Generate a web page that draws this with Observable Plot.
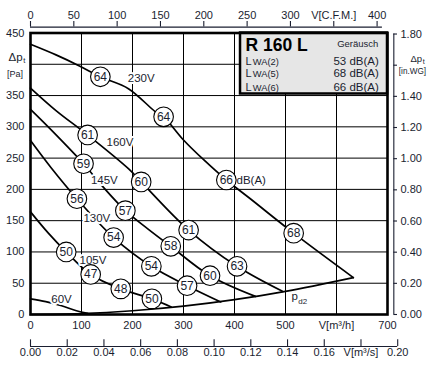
<!DOCTYPE html>
<html><head><meta charset="utf-8">
<script src="https://cdn.jsdelivr.net/npm/d3@7"></script>
<script src="https://cdn.jsdelivr.net/npm/@observablehq/plot@0.6"></script>
<style>body{margin:0;background:#fff}svg{display:block}</style>
</head><body><div id="chart"></div>
<script>
// ---------- data ----------
const voltages = ["230V", "160V", "145V", "130V", "105V", "60V"];
const curve230 = [[0,432],[50,415],[97,397],[137,380],[192,361],[245,324],[261,316],[300,279],[340,247],[384,215],[431,185],[516,130],[633,59]];
const curve160 = [[0,362],[50,326],[112,287],[192,233],[217,212],[310,135],[405,77],[494,37]];
const curve145 = [[0,328],[42,294],[104,241],[140,206],[186,166],[230,137],[275,109],[352,62],[441,29]];
const curve130 = [[0,278],[40,235],[91,185],[163,123],[237,77],[307,46],[373,20]];
const curve105 = [[0,164],[35,130],[70,100],[118,64],[177,41],[238,25],[276,12]];
const curve60  = [[0,25],[30,20.5],[61,14],[90,6],[112,2]];
const curvePd2 = [[0,0],[100,1.5],[200,6],[300,13.3],[400,23.7],[500,37],[633,59]];

// sound levels dB(A) on the curves: [V m3/h, dp Pa, level]
const db230 = [[137,380,"64"],[261,316,"64"],[384,215,"66"],[516,130,"68"]];
const db160 = [[112,287,"61"],[217,212,"60"],[310,135,"61"],[405,77,"63"]];
const db145 = [[104,241,"59"],[186,166,"57"],[275,109,"58"],[352,62,"60"]];
const db130 = [[91,185,"56"],[163,123,"54"],[237,77,"54"],[307,46,"57"]];
const db105 = [[70,100,"50"],[118,64,"47"],[177,41,"48"],[238,25,"50"]];

// axes
const m3hTicks = [0,100,200,300,400,500,600,700];
const m3hLabels = ["0","100","200","300","400","500","V[m³/h]","700"];
const paTicks = [0,50,100,150,200,250,300,350,450];
const cfmTicks = [0,50,100,150,200,250,300,350,400];
const cfmLabels = ["0","50","100","150","200","250","300","V[C.F.M.]","400"];
const m3sTicks = [0,0.02,0.04,0.06,0.08,0.10,0.12,0.14,0.16,0.18,0.20];
const m3sLabels = ["0.00","0.02","0.04","0.06","0.08","0.10","0.12","0.14","0.16","V[m³/s]","0.20"];
const inwgTicks = [0,0.2,0.4,0.6,0.8,1.0,1.2,1.4,1.6,1.8];
const inwgLabels = ["0.00","0.20","0.40","0.60","0.80","1.00","1.20","1.40","","1.80"];
const legendNames = ["2","5","6"];
const legendValues = ["53 dB(A)","68 dB(A)","66 dB(A)"];

// ---------- build ----------
const CFM = 1.699, M3S = 3600, INWG = 249.09;
const FONT = "Liberation Sans, Arial, sans-serif";
const INK = "#1a1e30";
const curveList = [curve230, curve160, curve145, curve130, curve105, curve60];
const dbList = [db230, db160, db145, db130, db105];
const lineRows = curveList.flatMap((c, k) => c.map(([v, p]) => ({v, p, s: voltages[k]})));
const pdRows = curvePd2.map(([v, p]) => ({v, p}));
const dotRows = dbList.flatMap(c => c.map(([v, p, t]) => ({v, p, t})));
const voltPos = [[217,378],[175.5,275.4],[144.7,214],[130,153],[122.5,87.4],[60.8,25]];
const voltRows = voltages.map((s, i) => ({v: voltPos[i][0], p: voltPos[i][1], t: s}));
const legendRowP = [399.6, 379, 358];

const T = (rows, o) => Plot.text(rows, {x: "v", y: "p", text: "t", fill: INK, fontFamily: FONT, ...o});

const plot = Plot.plot({
  width: 434, height: 366,
  marginLeft: 30, marginRight: 47, marginTop: 32.5, marginBottom: 52,
  x: {domain: [0, 700], axis: null},
  y: {domain: [0, 450], axis: null},
  style: {fontFamily: FONT, background: "#fff"},
  marks: [
    Plot.ruleX([100,200,300,400,500,600], {stroke: "#000", strokeWidth: 1}),
    Plot.ruleY([50,100,150,200,250,300,350,400], {stroke: "#000", strokeWidth: 1}),
    Plot.rect([{a: 411.8, b: 700, c: 352.5, d: 450}], {x1: "a", x2: "b", y1: "c", y2: "d", fill: "#e6e6e6", stroke: "#000", strokeWidth: 2.5}),
    Plot.line(lineRows, {x: "v", y: "p", z: "s", curve: "catmull-rom", stroke: "#000", strokeWidth: 1.7}),
    Plot.line(pdRows, {x: "v", y: "p", curve: "catmull-rom", stroke: "#000", strokeWidth: 1.7}),
    T(voltRows, {fontSize: 11.5, stroke: "white", strokeWidth: 4}),
    T([{v: 404, p: 215.3, t: "dB(A)"}], {fontSize: 11.5, textAnchor: "start"}),
    T([{v: 511.8, p: 22.4, t: "p"}], {fontSize: 11.5, textAnchor: "start", lineAnchor: "bottom"}),
    T([{v: 525, p: 17.4, t: "d2"}], {fontSize: 8, textAnchor: "start", lineAnchor: "bottom"}),
    Plot.dot(dotRows, {x: "v", y: "p", r: 9.8, fill: "white", stroke: "#000", strokeWidth: 1.1}),
    T(dotRows, {fontSize: 12}),
    Plot.frame({stroke: "#000", strokeWidth: 2.6}),
    // legend text
    T([{v: 421.6, p: 421, t: "R 160 L"}], {fontSize: 17.5, fontWeight: "bold", textAnchor: "start", lineAnchor: "bottom", fill: "#000"}),
    T([{v: 682, p: 427.3, t: "Geräusch"}], {fontSize: 9.5, textAnchor: "end", lineAnchor: "bottom"}),
    T(legendRowP.map(p => ({v: 421.6, p, t: "L"})), {fontSize: 11, textAnchor: "start", lineAnchor: "bottom"}),
    T(legendNames.map((n, i) => ({v: 436, p: legendRowP[i], t: "WA(" + n + ")"})), {fontSize: 9.3, textAnchor: "start", lineAnchor: "bottom"}),
    T(legendValues.map((n, i) => ({v: 683, p: legendRowP[i], t: n})), {fontSize: 11.5, textAnchor: "end", lineAnchor: "bottom"}),
    // bottom m3/h labels
    T(m3hTicks.map((d, i) => ({v: d, p: -16.8, t: m3hLabels[i]})), {fontSize: 11}),
    // left Pa labels
    T(paTicks.map(d => ({v: -11.8, p: d, t: String(d)})), {fontSize: 11, textAnchor: "end"}),
    T([{v: -43, p: 406, t: "Δp"}], {fontSize: 11.5, textAnchor: "start", lineAnchor: "bottom"}),
    T([{v: -14, p: 402, t: "t"}], {fontSize: 7.5, textAnchor: "start", lineAnchor: "bottom"}),
    T([{v: -30.4, p: 380.4, t: "[Pa]"}], {fontSize: 9, lineAnchor: "bottom"}),
    // top CFM axis
    Plot.ruleY([459.4], {x1: 0, x2: 690, stroke: INK, strokeWidth: 1.1}),
    Plot.ruleX(cfmTicks, {x: d => d * CFM, y1: 459.4, y2: 468.4, stroke: INK, strokeWidth: 1.1}),
    T(cfmTicks.map((d, i) => ({v: d * CFM, p: 478, t: cfmLabels[i]})), {fontSize: 11}),
    // bottom m3/s axis
    Plot.ruleY([-51.2], {x1: 0, x2: 720, stroke: INK, strokeWidth: 1.1}),
    Plot.ruleX(m3sTicks, {x: d => d * M3S, y1: -51.2, y2: -40.5, stroke: INK, strokeWidth: 1.1}),
    T(m3sTicks.map((d, i) => ({v: d * M3S, p: -60.7, t: m3sLabels[i]})), {fontSize: 11}),
    // right in.WG axis
    Plot.ruleX([712.4], {y1: 0, y2: 1.8 * INWG, stroke: INK, strokeWidth: 1.1}),
    Plot.ruleY(inwgTicks, {y: d => d * INWG, x1: 712.4, x2: 719.6, stroke: INK, strokeWidth: 1.1}),
    T(inwgTicks.map((d, i) => ({v: 725.5, p: d * INWG, t: inwgLabels[i]})), {fontSize: 11, textAnchor: "start"}),
    T([{v: 745, p: 403.3, t: "Δp"}], {fontSize: 9.5, textAnchor: "start", lineAnchor: "bottom"}),
    T([{v: 769, p: 400, t: "t"}], {fontSize: 7, textAnchor: "start", lineAnchor: "bottom"}),
    T([{v: 749, p: 384.8, t: "[in.WG]"}], {fontSize: 8.2, lineAnchor: "bottom"})
  ]
});
document.getElementById("chart").append(plot);
</script>
</body></html>
